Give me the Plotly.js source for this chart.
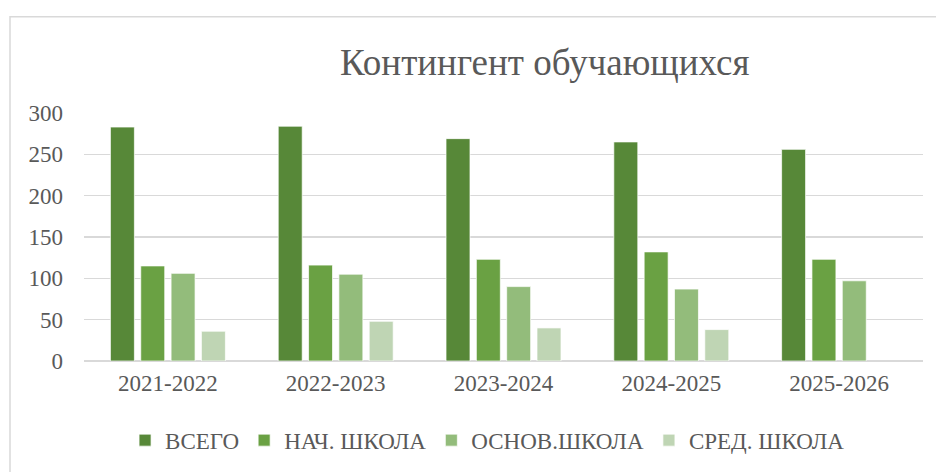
<!DOCTYPE html>
<html>
<head>
<meta charset="utf-8">
<script src="https://cdn.plot.ly/plotly-3.0.1.min.js"></script>
<style>html,body{margin:0;padding:0;background:#fff;}#chart{width:936px;height:472px;}</style>
</head>
<body>
<div id="chart"></div>
<script>
const years = ["2021-2022", "2022-2023", "2023-2024", "2024-2025", "2025-2026"];
const seriesNames = ["ВСЕГО", "НАЧ. ШКОЛА", "ОСНОВ.ШКОЛА", "СРЕД. ШКОЛА"];
const vsego = [283, 284, 269, 265, 256];
const nach = [115, 116, 123, 132, 123];
const osnov = [106, 105, 90, 87, 97];
const sred = [36, 48, 40, 38, null];
const colors = ["#578838", "#6aa143", "#93bc7b", "#bfd5b4"];

const font = {family: "'Liberation Serif'", color: "#595959"};
const allVals = [vsego, nach, osnov, sred];
const traces = allVals.map((vals, i) => ({
  type: "bar",
  name: seriesNames[i],
  x: years,
  y: vals,
  marker: {color: colors[i], line: {color: "rgba(255,255,255,0.7)", width: 1}},
  hoverinfo: "x+y+name"
}));

const layout = {
  width: 936, height: 472,
  margin: {l: 84, r: 13, t: 112.7, b: 110.3},
  paper_bgcolor: "#ffffff", plot_bgcolor: "#ffffff",
  title: {text: "Контингент обучающихся", font: Object.assign({}, font, {size: 37}),
          xref: "container", yref: "container", x: 0.582, xanchor: "center", y: 0.869, yanchor: "middle"},
  barmode: "group", bargap: 0.277, bargroupgap: 0.21,
  xaxis: {tickfont: Object.assign({}, font, {size: 23}), showgrid: false, showline: false,
          ticks: "", ticklabelstandoff: 6, fixedrange: true},
  yaxis: {range: [0, 300], dtick: 50, tickfont: Object.assign({}, font, {size: 23}),
          gridcolor: "#d9d9d9", gridwidth: 1.5, zeroline: true, zerolinecolor: "#d9d9d9", zerolinewidth: 1.5,
          showline: false, ticks: "", ticklabelstandoff: 20, fixedrange: true},
  legend: {orientation: "h", x: 0.481, xanchor: "center", y: -0.314, yanchor: "middle",
           font: Object.assign({}, font, {size: 23}), traceorder: "normal", itemclick: false},
  shapes: [{type: "rect", xref: "paper", yref: "paper", x0: -0.0882, x1: 1.2, y0: -0.6, y1: 1.388,
            line: {color: "#d9d9d9", width: 1.5}, fillcolor: "rgba(0,0,0,0)", layer: "below"}],
  showlegend: true
};

Plotly.newPlot("chart", traces, layout, {displayModeBar: false, staticPlot: true});
</script>
</body>
</html>
